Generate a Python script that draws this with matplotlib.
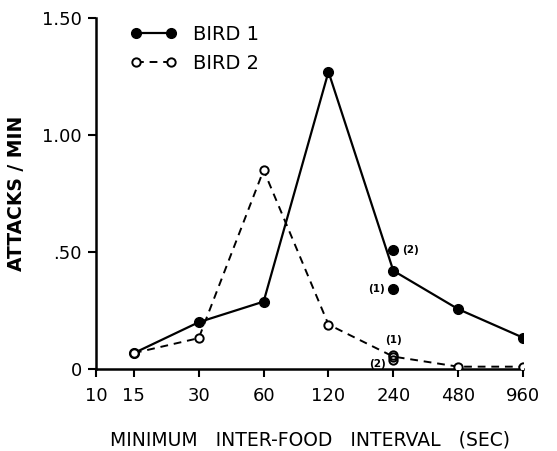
import matplotlib
matplotlib.use('Agg')
import matplotlib.pyplot as plt
from matplotlib.ticker import FixedLocator, NullLocator

# minimum inter-food interval (sec)
intervals = [15, 30, 60, 120, 240, 480, 960]
bird1 = [0.068, 0.20, 0.288, 1.27, 0.42, 0.256, 0.134]
bird2 = [0.068, 0.132, 0.85, 0.19, 0.053, 0.01, 0.01]

# separate determinations at 240 sec
extra_x = [240, 240]
extra_b1 = [0.51, 0.34]
extra_b2 = [0.06, 0.04]

x_ticks = [10, 15, 30, 60, 120, 240, 480, 960]
y_ticks = [0, 0.5, 1.0, 1.5]
y_labels = ['0', '.50', '1.00', '1.50']

plt.rcParams['font.family'] = 'DejaVu Sans'

fig = plt.figure(figsize=(5.57, 4.51), dpi=100)
ax = fig.add_axes([96 / 557, 1 - 369 / 451, (523 - 96) / 557, (369 - 18) / 451])

ax.plot(intervals, bird1, '-', color='black', lw=1.6, marker='o', ms=7,
        mfc='black', mec='black', label='BIRD 1', zorder=3)
ax.plot(intervals, bird2, '--', color='black', lw=1.4, marker='o', ms=6,
        mfc='white', mec='black', mew=1.4, dashes=(4, 3), label='BIRD 2', zorder=3)
ax.plot(extra_x, extra_b1, 'o', color='black', ms=7, zorder=3)
ax.plot(extra_x, extra_b2, 'o', ms=6, mfc='none', mec='black', mew=1.4, zorder=3)

ann = dict(fontsize=7.5, fontweight='bold', color='black')
ax.annotate('(2)', (240, 0.51), xytext=(6, 0), textcoords='offset points', va='center', ha='left', **ann)
ax.annotate('(1)', (240, 0.34), xytext=(-6, 0), textcoords='offset points', va='center', ha='right', **ann)
ax.annotate('(1)', (240, 0.06), xytext=(0, 7), textcoords='offset points', va='bottom', ha='center', **ann)
ax.annotate('(2)', (240, 0.04), xytext=(-5, -3), textcoords='offset points', va='center', ha='right', **ann)

ax.set_xscale('log')
ax.set_xlim(10, 960)
ax.set_ylim(0, 1.5)
ax.xaxis.set_major_locator(FixedLocator(x_ticks))
ax.xaxis.set_minor_locator(NullLocator())
ax.set_xticklabels([str(v) for v in x_ticks])
ax.set_yticks(y_ticks)
ax.set_yticklabels(y_labels)

for s in ['top', 'right']:
    ax.spines[s].set_visible(False)
for s in ['left', 'bottom']:
    ax.spines[s].set_linewidth(1.8)
ax.tick_params(axis='both', direction='out', width=1.5, length=6, labelsize=13, pad=4)
ax.tick_params(axis='x', pad=7)

ax.set_ylabel('ATTACKS / MIN', fontsize=13.5, fontweight='bold', labelpad=12)
ax.set_xlabel('MINIMUM   INTER-FOOD   INTERVAL   (SEC)', fontsize=13.5, labelpad=18)

leg = ax.legend(loc='upper left', bbox_to_anchor=(0.04, 1.03), frameon=False,
                numpoints=2, handlelength=2.4, handletextpad=0.8, fontsize=14,
                labelspacing=0.5)

fig.savefig('out.png', dpi=100)
